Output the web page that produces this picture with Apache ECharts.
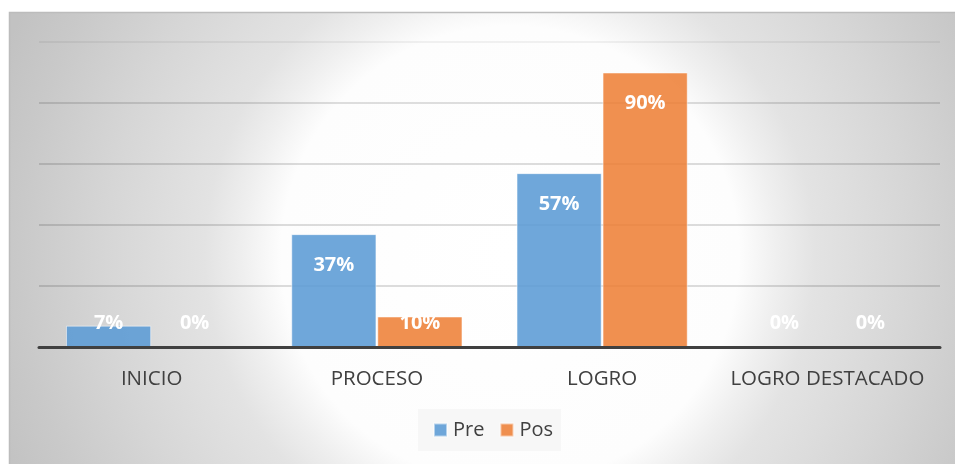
<!DOCTYPE html>
<html>
<head>
<meta charset="utf-8">
<script src="https://cdn.jsdelivr.net/npm/echarts@6/dist/echarts.min.js"></script>
<style>
html,body{margin:0;padding:0;background:#fff;}
#c{width:955px;height:464px;}
</style>
</head>
<body>
<div id="c"></div>
<script>
const categories = ['INICIO', 'PROCESO', 'LOGRO', 'LOGRO DESTACADO'];
const preValues = [7, 37, 57, 0];
const posValues = [0, 10, 90, 0];
const seriesNames = ['Pre', 'Pos'];

const FONT = "'Open Sans', sans-serif";

function withLabels(vals) {
  return vals.map(v => ({
    value: v,
    itemStyle: v === 0 ? { borderWidth: 0 } : {},
    label: v < 15
      ? { position: 'insideBottom', distance: 14 }
      : { position: 'insideTop', distance: 21 }
  }));
}

const chart = echarts.init(document.getElementById('c'), null, { renderer: 'canvas' });

const labelStyle = {
  show: true,
  formatter: '{c}%',
  color: '#ffffff',
  fontFamily: FONT,
  fontWeight: 'bold',
  fontSize: 20
};

chart.setOption({
  animation: false,
  backgroundColor: '#ffffff',
  graphic: [{
    type: 'rect',
    z: -100,
    shape: { x: 9.5, y: 12.5, width: 960, height: 470 },
    style: {
      fill: {
        type: 'radial', x: 510, y: 255, r: 545, global: true,
        colorStops: [
          { offset: 0, color: '#ffffff' },
          { offset: 0.42, color: '#fdfdfd' },
          { offset: 0.49, color: '#efefef' },
          { offset: 0.56, color: '#e3e3e3' },
          { offset: 0.74, color: '#d6d6d6' },
          { offset: 0.9, color: '#c9c9c9' },
          { offset: 1, color: '#c2c2c2' }
        ]
      },
      stroke: '#bcbcbc',
      lineWidth: 1.5
    }
  }],
  grid: { left: 39, right: 15, top: 42, bottom: 117 },
  legend: {
    data: seriesNames,
    top: 409,
    left: 418,
    padding: [11, 8, 11, 15],
    backgroundColor: '#f7f7f7',
    icon: 'rect',
    itemWidth: 13,
    itemHeight: 13,
    itemGap: 15,
    textStyle: { fontFamily: FONT, fontSize: 20, color: '#404040', padding: [0, 0, 0, 1] }
  },
  xAxis: {
    type: 'category',
    data: categories,
    z: 5,
    axisLine: { show: true, lineStyle: { color: '#404040', width: 3 } },
    axisTick: { show: false },
    axisLabel: { interval: 0, margin: 22, fontFamily: FONT, fontSize: 20.5, color: '#404040' }
  },
  yAxis: {
    type: 'value',
    min: 0,
    max: 100,
    interval: 20,
    axisLabel: { show: false },
    axisLine: { show: false },
    axisTick: { show: false },
    splitLine: {
      show: true,
      lineStyle: {
        color: ['rgba(0,0,0,0.2)', 'rgba(0,0,0,0.18)', 'rgba(0,0,0,0.18)', 'rgba(0,0,0,0.18)', 'rgba(0,0,0,0.17)', 'rgba(0,0,0,0.07)'],
        width: 1.5
      }
    }
  },
  series: [
    {
      name: seriesNames[0],
      type: 'bar',
      data: withLabels(preValues),
      barGap: '1%',
      barCategoryGap: '24%',
      itemStyle: { color: 'rgba(91,155,213,0.88)', borderColor: 'rgba(255,255,255,0.5)', borderWidth: 1 },
      label: labelStyle
    },
    {
      name: seriesNames[1],
      type: 'bar',
      data: withLabels(posValues),
      barGap: '1%',
      barCategoryGap: '24%',
      itemStyle: { color: 'rgba(237,125,49,0.85)', borderColor: 'rgba(255,255,255,0.5)', borderWidth: 1 },
      label: labelStyle
    }
  ]
});
</script>
</body>
</html>
